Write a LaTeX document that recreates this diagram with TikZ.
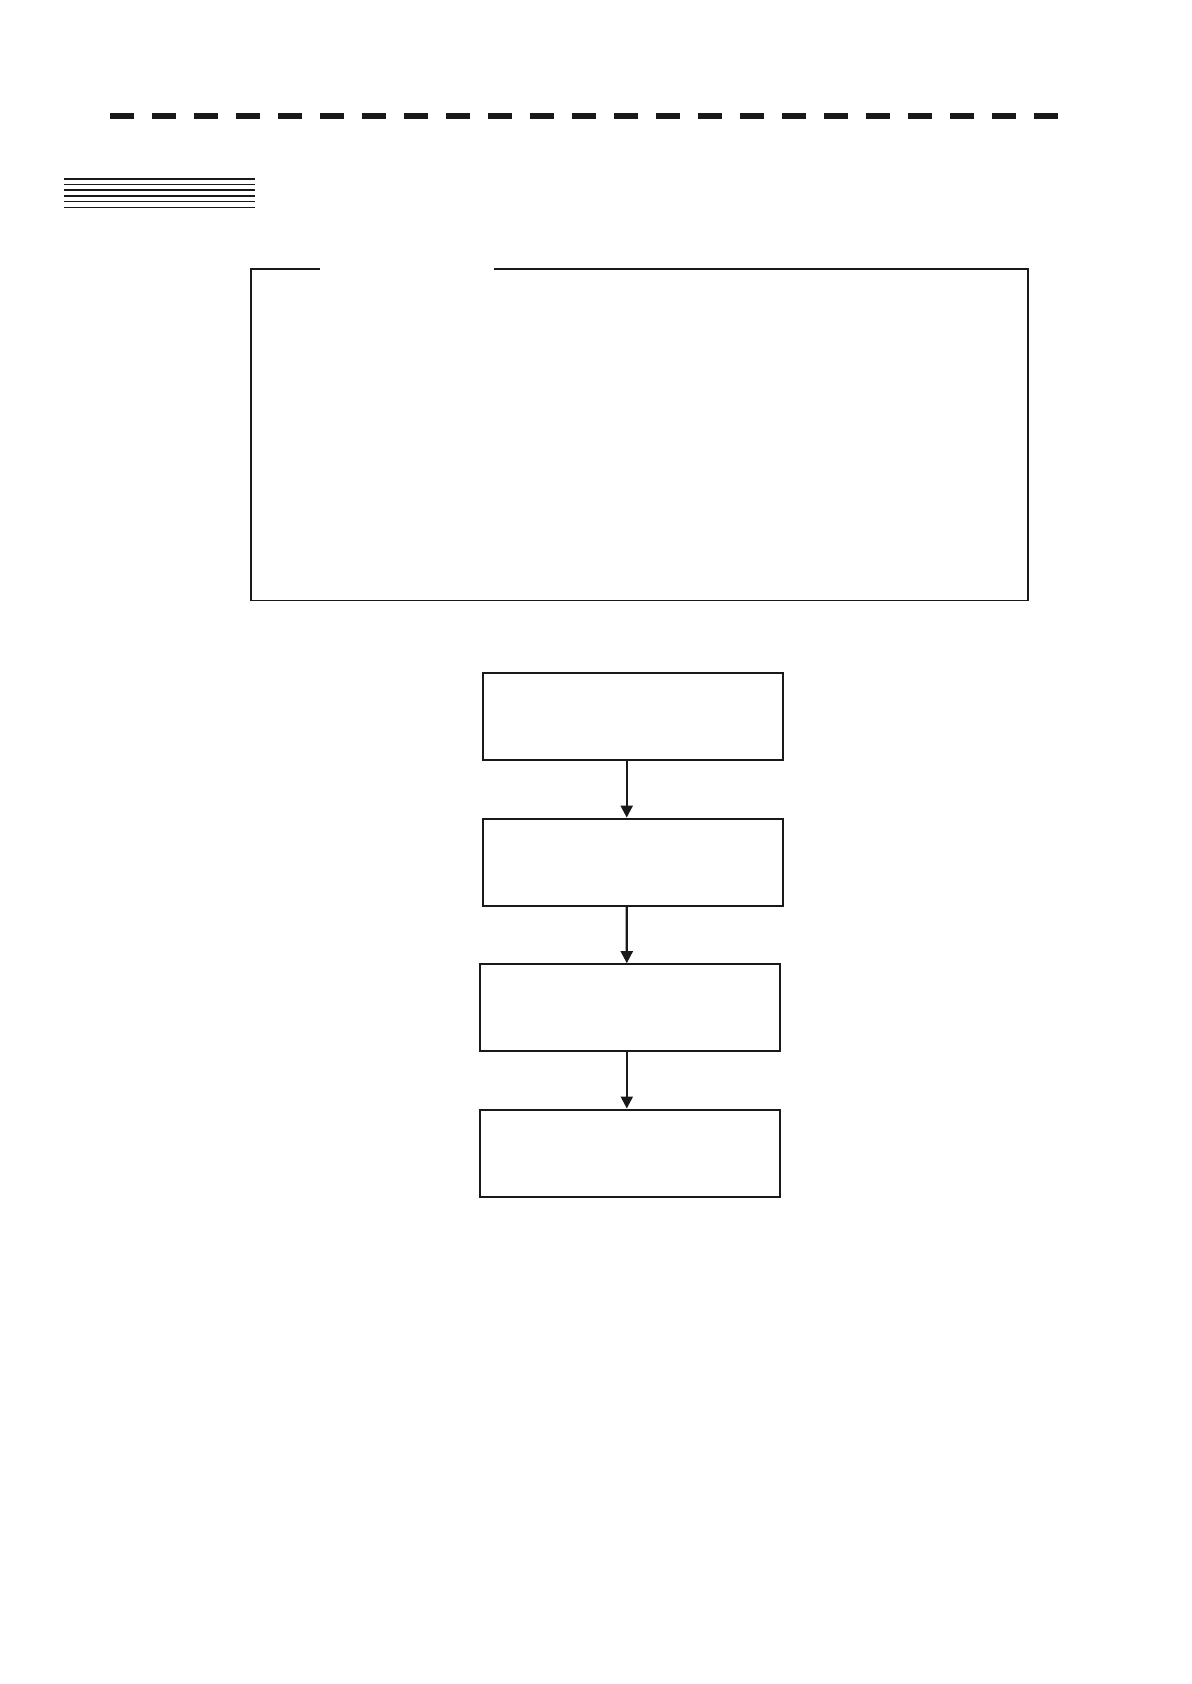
\documentclass[tikz,border=0pt]{standalone}
\usepackage{tikz}
\usetikzlibrary{positioning, arrows.meta}
\tikzstyle{process} = [rectangle, minimum width=150pt, minimum height=43.5pt, inner sep=0pt, draw=black!90, line width=1pt]
\tikzstyle{arrow} = [line width=1.1pt, black!90, -{Triangle[length=6pt,width=6pt]}]
\tikzstyle{rule} = [black!90, line width=0.75pt]

\begin{document}
\begin{tikzpicture}[x=0.5pt, y=-0.5pt, node distance=72.8pt]
			\useasboundingbox (0,0) rectangle (1191,1684);
			%页眉虚线与横线
			\draw [black!90, line width=3pt, dash pattern=on 12pt off 9pt] (110,115.7) -- (1059,115.7);
			\foreach \y/\w in {179/0.9pt, 184.5/0.6pt, 190/0.6pt, 196/0.6pt, 201.5/0.9pt, 207.5/0.9pt}
				\draw [black!90, line width=\w] (64,\y) -- (255,\y);
			%上方框
			\draw [rule] (320,269) -- (251,269) -- (251,600.3) -- (1028,600.3) -- (1028,269) -- (494,269);
			%定义流程图具体形状
			\node (box1) [process] at (633.3,716.5) {};
			\node (box2) [process, below of=box1] {};
			\node (box3) [process, below of=box2, xshift=-1.75pt] {};
			\node (box4) [process, below of=box3, line width=1.3pt] {};
			%连接具体形状
			\draw [arrow]([xshift=-3.3pt]box1.south) -- ([xshift=-3.3pt]box2.north);
			\draw [arrow]([xshift=-3.3pt]box2.south) -- ([xshift=-1.5pt]box3.north);
			\draw [arrow]([xshift=-1.5pt]box3.south) -- ([xshift=-1.5pt]box4.north);
		\end{tikzpicture}
\end{document}
